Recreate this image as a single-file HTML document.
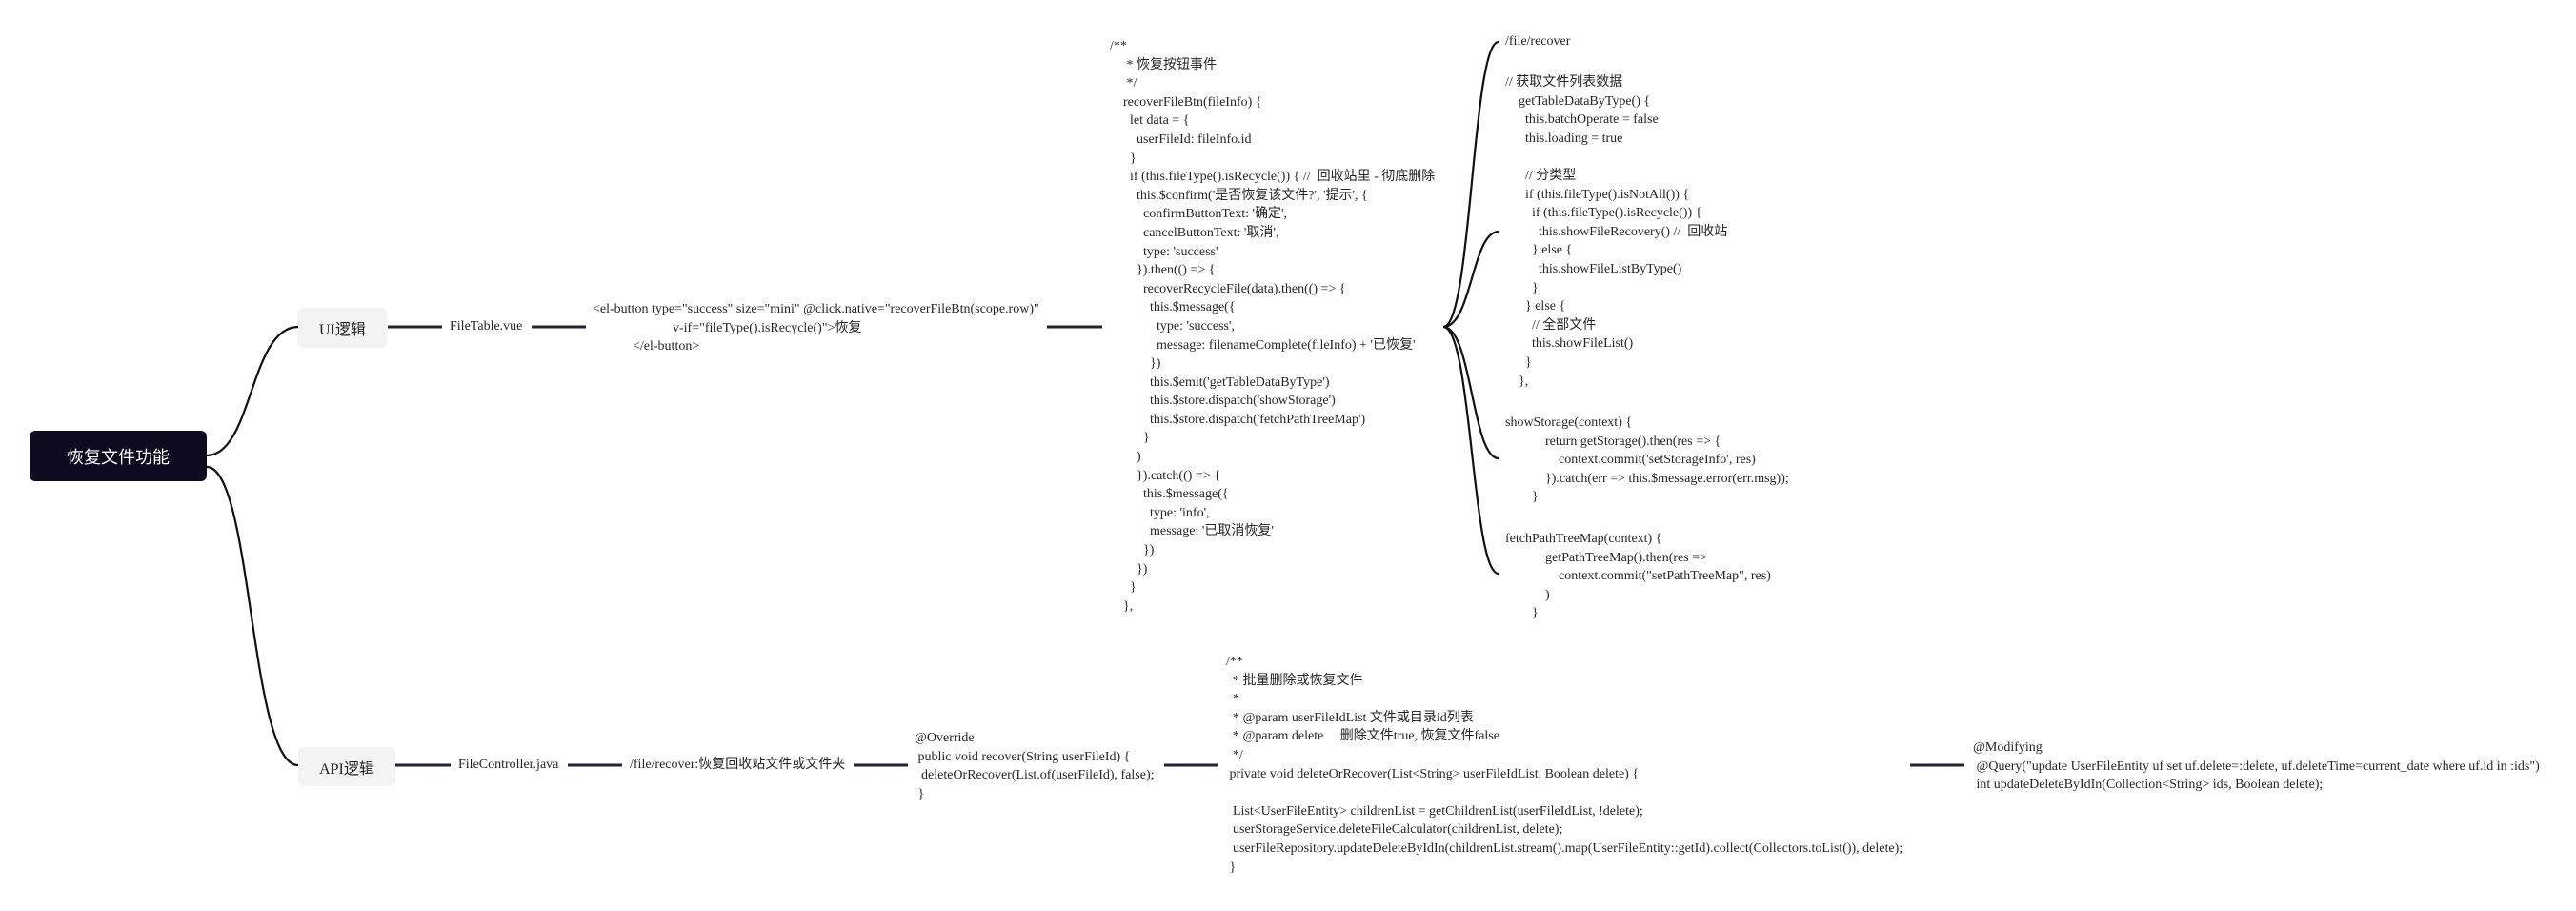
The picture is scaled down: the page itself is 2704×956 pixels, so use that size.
<!DOCTYPE html>
<html><head><meta charset="utf-8"><style>
html,body{margin:0;padding:0;background:#fff;}
body{width:2704px;height:956px;position:relative;overflow:hidden;font-family:"Liberation Serif","Noto Sans CJK SC",serif;color:#222;}
.t{position:absolute;font-size:14px;line-height:19.6px;white-space:pre;font-family:"Liberation Serif","Noto Sans CJK SC",serif;color:#262626;}
.node{position:absolute;display:flex;align-items:center;justify-content:center;border-radius:6px;}
svg{position:absolute;left:0;top:0;}
</style></head><body>
<svg width="2704" height="956" viewBox="0 0 2704 956">
<g fill="none" stroke="#111" stroke-width="2.2">
<path d="M217 478 C265 478 262 343 313 343"/>
<path d="M217 490 C265 490 262 803 313 803"/>
<path d="M1515 343 C1545 343 1545 44 1573 44"/>
<path d="M1515 343 C1545 343 1545 243 1573 243"/>
<path d="M1515 343 C1545 343 1545 481 1573 481"/>
<path d="M1515 343 C1545 343 1545 602 1573 602"/>
</g>
<g stroke="#22223a" stroke-width="3">
<line x1="407" y1="343" x2="464" y2="343"/>
<line x1="558" y1="343" x2="615" y2="343"/>
<line x1="1099" y1="343" x2="1157" y2="343"/>
<line x1="415" y1="803" x2="473" y2="803"/>
<line x1="596" y1="803" x2="653" y2="803"/>
<line x1="896" y1="803" x2="953" y2="803"/>
<line x1="1222" y1="803" x2="1279" y2="803"/>
<line x1="2005" y1="803" x2="2062" y2="803"/>
</g>
</svg>

<div class="node" style="left:31px;top:452px;width:186px;height:53px;background:#0d0b20;color:#fff;font-size:18px;font-family:'Liberation Sans','Noto Sans CJK SC',sans-serif;">恢复文件功能</div>
<div class="node" style="left:313px;top:323px;width:93px;height:42px;background:#f3f3f5;color:#222;font-size:16px;font-family:'Liberation Serif','Noto Sans CJK SC',serif;">UI逻辑</div>
<div class="node" style="left:313px;top:784px;width:102px;height:41px;background:#f3f3f5;color:#222;font-size:16px;font-family:'Liberation Serif','Noto Sans CJK SC',serif;">API逻辑</div>

<div class="t" style="left:472px;top:333px;">FileTable.vue</div>
<div class="t" style="left:622px;top:315px;">&lt;el-button type="success" size="mini" @click.native="recoverFileBtn(scope.row)"
                        v-if="fileType().isRecycle()"&gt;恢复
            &lt;/el-button&gt;</div>

<div class="t" style="left:1165px;top:39px;">/**
     * 恢复按钮事件
     */
    recoverFileBtn(fileInfo) {
      let data = {
        userFileId: fileInfo.id
      }
      if (this.fileType().isRecycle()) { //  回收站里 - 彻底删除
        this.$confirm('是否恢复该文件?', '提示', {
          confirmButtonText: '确定',
          cancelButtonText: '取消',
          type: 'success'
        }).then(() =&gt; {
          recoverRecycleFile(data).then(() =&gt; {
            this.$message({
              type: 'success',
              message: filenameComplete(fileInfo) + '已恢复'
            })
            this.$emit('getTableDataByType')
            this.$store.dispatch('showStorage')
            this.$store.dispatch('fetchPathTreeMap')
          }
        )
        }).catch(() =&gt; {
          this.$message({
            type: 'info',
            message: '已取消恢复'
          })
        })
      }
    },</div>

<div class="t" style="left:1580px;top:34px;">/file/recover</div>
<div class="t" style="left:1580px;top:77px;">// 获取文件列表数据
    getTableDataByType() {
      this.batchOperate = false
      this.loading = true

      // 分类型
      if (this.fileType().isNotAll()) {
        if (this.fileType().isRecycle()) {
          this.showFileRecovery() //  回收站
        } else {
          this.showFileListByType()
        }
      } else {
        // 全部文件
        this.showFileList()
      }
    },</div>
<div class="t" style="left:1580px;top:434px;">showStorage(context) {
            return getStorage().then(res =&gt; {
                context.commit('setStorageInfo', res)
            }).catch(err =&gt; this.$message.error(err.msg));
        }</div>
<div class="t" style="left:1580px;top:556px;">fetchPathTreeMap(context) {
            getPathTreeMap().then(res =&gt;
                context.commit("setPathTreeMap", res)
            )
        }</div>

<div class="t" style="left:481px;top:793px;">FileController.java</div>
<div class="t" style="left:661px;top:793px;">/file/recover:恢复回收站文件或文件夹</div>
<div class="t" style="left:960px;top:765px;">@Override
 public void recover(String userFileId) {
  deleteOrRecover(List.of(userFileId), false);
 }</div>
<div class="t" style="left:1287px;top:685px;">/**
  * 批量删除或恢复文件
  *
  * @param userFileIdList 文件或目录id列表
  * @param delete     删除文件true, 恢复文件false
  */
 private void deleteOrRecover(List&lt;String&gt; userFileIdList, Boolean delete) {

  List&lt;UserFileEntity&gt; childrenList = getChildrenList(userFileIdList, !delete);
  userStorageService.deleteFileCalculator(childrenList, delete);
  userFileRepository.updateDeleteByIdIn(childrenList.stream().map(UserFileEntity::getId).collect(Collectors.toList()), delete);
 }</div>
<div class="t" style="left:2071px;top:775px;">@Modifying
 @Query("update UserFileEntity uf set uf.delete=:delete, uf.deleteTime=current_date where uf.id in :ids")
 int updateDeleteByIdIn(Collection&lt;String&gt; ids, Boolean delete);</div>
</body></html>
